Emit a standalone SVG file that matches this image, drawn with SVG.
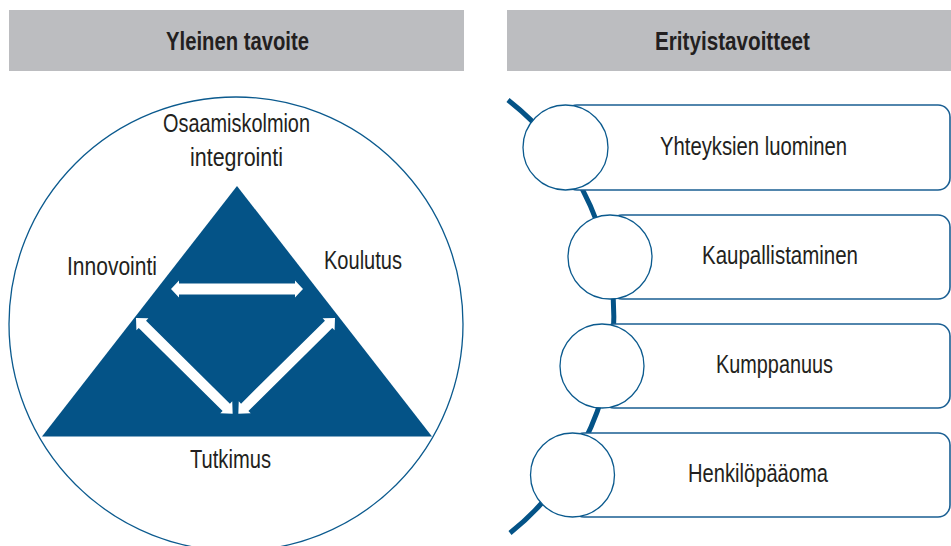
<svg xmlns="http://www.w3.org/2000/svg" width="951" height="546" viewBox="0 0 951 546">
<style>
text{font-family:"Liberation Sans Narrow","Liberation Sans",Arial,sans-serif;fill:#231f20;font-size:25.5px}
.hd{font-weight:bold;font-size:26px}
.bar{fill:#bcbdc0}
.ring{fill:#fff;stroke:#0b5a8e;stroke-width:1.3}
.box{fill:#fff;stroke:#1a5f93;stroke-width:1.6}
.wa{fill:#fff}
</style>
<rect width="951" height="546" fill="#fff"/>
<g id="header-left"><rect class="bar" x="9" y="10" width="455" height="61"/><text class="hd" x="166" y="50" textLength="143" lengthAdjust="spacingAndGlyphs">Yleinen tavoite</text></g>
<g id="header-right"><rect class="bar" x="507" y="10" width="444" height="61"/><text class="hd" x="655" y="50" textLength="155" lengthAdjust="spacingAndGlyphs">Erityistavoitteet</text></g>
<g id="overall-circle"><circle cx="236" cy="324" r="227" fill="#fff" stroke="#0b5a8e" stroke-width="1.3"/></g>
<g id="triangle"><polygon points="237,186 432,436.5 42,436.5" fill="#045387"/></g>
<g id="label-top"><text x="163" y="132" textLength="147" lengthAdjust="spacingAndGlyphs">Osaamiskolmion</text><text x="190" y="166" textLength="93" lengthAdjust="spacingAndGlyphs">integrointi</text></g>
<g id="label-innovointi"><text x="67" y="275" textLength="90" lengthAdjust="spacingAndGlyphs">Innovointi</text></g>
<g id="label-koulutus"><text x="324" y="269" textLength="78" lengthAdjust="spacingAndGlyphs">Koulutus</text></g>
<g id="label-tutkimus"><text x="190" y="468" textLength="81" lengthAdjust="spacingAndGlyphs">Tutkimus</text></g>
<g id="connectors">
<path d="M508,100 A276,276 0 0 1 510,533" fill="none" stroke="#045387" stroke-width="5"/>
<polygon class="wa" points="171,289 179,280.5 179,283.5 295,283.5 295,280.5 303,289 295,297.5 295,294.5 179,294.5 179,297.5"/>
<polygon class="wa" transform="translate(136,318) rotate(44.7)" points="0,0 9,-8.5 9,-5.2 127,-5.2 127,-8.5 136,0 127,8.5 127,5.2 9,5.2 9,8.5"/>
<polygon class="wa" transform="translate(335,318) rotate(135.3)" points="0,0 9,-8.5 9,-5.2 127,-5.2 127,-8.5 136,0 127,8.5 127,5.2 9,5.2 9,8.5"/>
</g>
<g id="goal-1"><rect class="box" x="565" y="105" width="385" height="85" rx="12"/><circle class="ring" cx="565.5" cy="147.5" r="42.5"/><text x="660" y="155" textLength="187" lengthAdjust="spacingAndGlyphs">Yhteyksien luominen</text></g>
<g id="goal-2"><rect class="box" x="610" y="215" width="340" height="84" rx="12"/><circle class="ring" cx="610" cy="257" r="42"/><text x="702" y="264" textLength="156" lengthAdjust="spacingAndGlyphs">Kaupallistaminen</text></g>
<g id="goal-3"><rect class="box" x="602" y="324" width="348" height="84" rx="12"/><circle class="ring" cx="602" cy="366" r="42"/><text x="716" y="373" textLength="117" lengthAdjust="spacingAndGlyphs">Kumppanuus</text></g>
<g id="goal-4"><rect class="box" x="572" y="433" width="378" height="84" rx="12"/><circle class="ring" cx="572.5" cy="475" r="42"/><text x="688" y="482" textLength="140" lengthAdjust="spacingAndGlyphs">Henkilöpääoma</text></g>
</svg>
